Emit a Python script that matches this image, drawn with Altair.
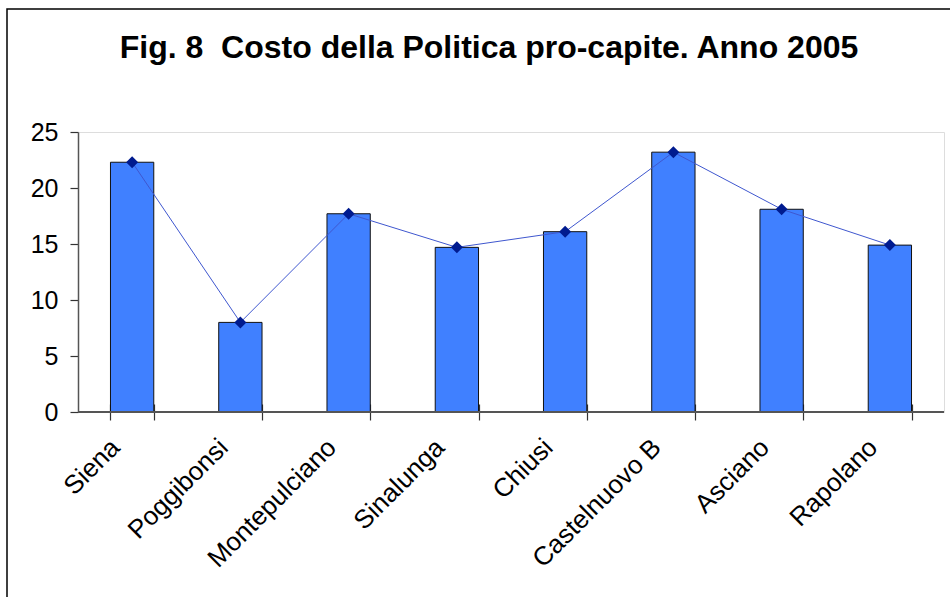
import altair as alt
import pandas as pd

comuni = ["Siena", "Poggibonsi", "Montepulciano", "Sinalunga", "Chiusi",
          "Castelnuovo B", "Asciano", "Rapolano"]
costo = [22.3, 8.0, 17.7, 14.7, 16.1, 23.2, 18.1, 14.9]
y_ticks = [0, 5, 10, 15, 20, 25]
title_text = "Fig. 8\u00a0 Costo della Politica pro-capite. Anno 2005"

FONT = "Liberation Sans"
df = pd.DataFrame({"Comune": comuni, "Costo": costo})
one = pd.DataFrame({"k": [0]})

x = alt.X("Comune:N", sort=comuni,
          scale=alt.Scale(paddingInner=0.6, paddingOuter=0.3),
          axis=alt.Axis(title=None, labelAngle=-45, labelAlign="right",
                        labelBaseline="middle", labelFontSize=26, labelFont=FONT,
                        labelColor="black", labelPadding=23, labelOffset=-17,
                        tickBand="extent", tickSize=16, tickColor="#333333",
                        tickWidth=1.2, offset=-8, domain=False, grid=False))
y = alt.Y("Costo:Q", scale=alt.Scale(domain=[0, 25], nice=False),
          axis=alt.Axis(title=None, values=y_ticks, labelFontSize=25, labelFont=FONT,
                        labelColor="black", labelPadding=12, tickSize=8,
                        tickColor="#333333", tickWidth=1.2, domainColor="#555555",
                        domainWidth=1.5, grid=False))

base = alt.Chart(df)

frame = alt.Chart(one).mark_rect(fillOpacity=0, stroke="black", strokeWidth=1.5).encode(
    x=alt.value(-71), x2=alt.value(905), y=alt.value(-123), y2=alt.value(520))

bars = base.mark_bar(color="#4080ff", stroke="#111111", strokeWidth=1).encode(x=x, y=y)
zero = alt.Chart(one).mark_rule(color="#555555", strokeWidth=2).encode(y=alt.datum(0))
line = base.mark_line(color="#3f57cf", strokeWidth=1).encode(x=x, y=y)
pts = base.mark_point(shape="diamond", filled=True, size=144, color="#001b8f",
                      opacity=1).encode(x=x, y=y)

chart = alt.layer(frame, bars, zero, line, pts).properties(
    width=866, height=280,
    padding={"left": 78, "top": 132, "right": 6, "bottom": 185},
    autosize=alt.AutoSizeParams(type="none"),
    title=alt.Title(title_text, fontSize=32, font=FONT, fontWeight="bold",
                    color="black", frame="group", anchor="middle", dx=-22,
                    baseline="alphabetic", dy=86),
).configure_view(stroke="#c0c0c0", strokeWidth=1.5).configure(background="white")

chart.save("out.html", embed_options={"renderer": "svg", "actions": False})
